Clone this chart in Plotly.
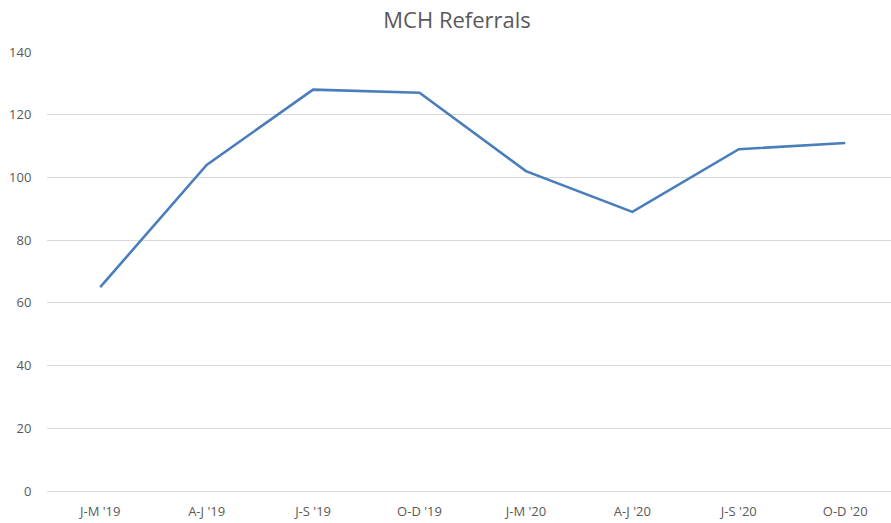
import plotly.graph_objects as go

categories = ["J-M '19", "A-J '19", "J-S '19", "O-D '19", "J-M '20", "A-J '20", "J-S '20", "O-D '20"]
referrals = [65, 104, 128, 127, 102, 89, 109, 111]
y_ticks = [0, 20, 40, 60, 80, 100, 120, 140]

fig = go.Figure()
fig.add_trace(go.Scatter(
    x=list(range(len(categories))), y=referrals, mode="lines",
    line=dict(color="#4A7EBB", width=2.6),
    hoverinfo="y", showlegend=False,
))

fig.update_layout(
    width=891, height=523,
    margin=dict(l=47, r=0, t=52, b=32, autoexpand=False),
    paper_bgcolor="white", plot_bgcolor="white",
    title=dict(text="MCH Referrals", x=0.513, xanchor="center",
               y=1 - 20 / 523, yref="container", yanchor="middle",
               font=dict(family="Open Sans, sans-serif", size=22, color="#595959")),
    font=dict(family="Open Sans, sans-serif", size=13, color="#595959"),
    xaxis=dict(
        tickmode="array", tickvals=list(range(len(categories))), ticktext=categories,
        range=[-0.5, 7.43], showgrid=False, zeroline=False, showline=False,
        ticks="outside", ticklen=8, tickcolor="rgba(0,0,0,0)", automargin=False,
    ),
    yaxis=dict(
        range=[0, 140], tickmode="array", tickvals=y_ticks,
        showgrid=True, gridcolor="#D9D9D9", gridwidth=1,
        zeroline=True, zerolinecolor="#D9D9D9", zerolinewidth=1,
        showline=False, ticks="outside", ticklen=12, tickcolor="rgba(0,0,0,0)",
        automargin=False,
    ),
)

fig.write_html(
    "out.html",
    config={"displayModeBar": False},
    post_script="document.body.style.margin='0';document.body.style.overflow='hidden';",
)
